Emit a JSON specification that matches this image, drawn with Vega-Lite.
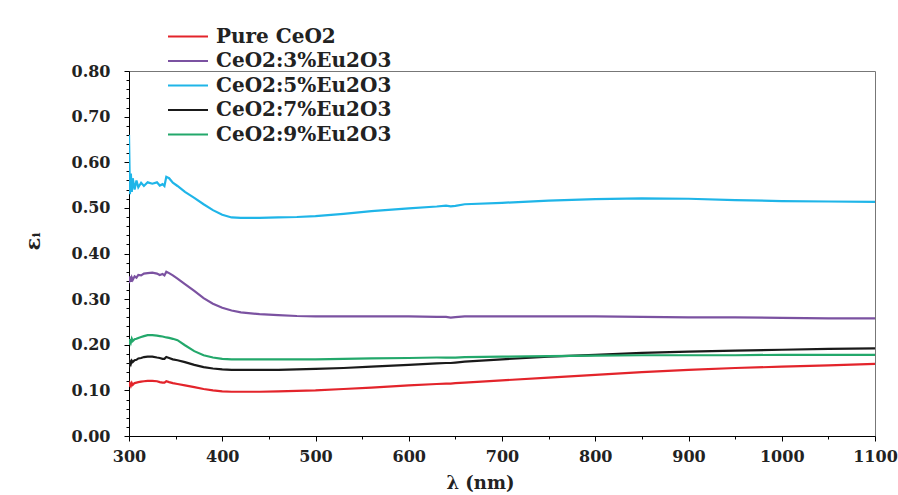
{
"$schema": "https://vega.github.io/schema/vega-lite/v6.json",
"width": 746, "height": 365,
"autosize": {"type": "none"},
"padding": {"left": 129, "top": 71, "right": 23, "bottom": 59},
"background": "white",
"config": {"view": {"stroke": "#777777", "strokeWidth": 1}, "font": "DejaVu Serif"},
"data": {"values": [
{"wl":300,"Pure CeO2":0.108,"CeO2:3%Eu2O3":0.335,"CeO2:5%Eu2O3":0.660,"CeO2:7%Eu2O3":0.150,"CeO2:9%Eu2O3":0.200},
{"wl":301,"Pure CeO2":0.115,"CeO2:3%Eu2O3":0.350,"CeO2:5%Eu2O3":0.530,"CeO2:7%Eu2O3":0.163,"CeO2:9%Eu2O3":0.212},
{"wl":302,"Pure CeO2":0.110,"CeO2:3%Eu2O3":0.338,"CeO2:5%Eu2O3":0.575,"CeO2:7%Eu2O3":0.158,"CeO2:9%Eu2O3":0.205},
{"wl":303,"Pure CeO2":0.116,"CeO2:3%Eu2O3":0.347,"CeO2:5%Eu2O3":0.535,"CeO2:7%Eu2O3":0.165,"CeO2:9%Eu2O3":0.213},
{"wl":304,"Pure CeO2":0.112,"CeO2:3%Eu2O3":0.342,"CeO2:5%Eu2O3":0.565,"CeO2:7%Eu2O3":0.162,"CeO2:9%Eu2O3":0.208},
{"wl":306,"Pure CeO2":0.116,"CeO2:3%Eu2O3":0.350,"CeO2:5%Eu2O3":0.540,"CeO2:7%Eu2O3":0.166,"CeO2:9%Eu2O3":0.212},
{"wl":308,"Pure CeO2":0.117,"CeO2:3%Eu2O3":0.347,"CeO2:5%Eu2O3":0.560,"CeO2:7%Eu2O3":0.167,"CeO2:9%Eu2O3":0.213},
{"wl":310,"Pure CeO2":0.118,"CeO2:3%Eu2O3":0.353,"CeO2:5%Eu2O3":0.545,"CeO2:7%Eu2O3":0.170,"CeO2:9%Eu2O3":0.215},
{"wl":313,"Pure CeO2":0.119,"CeO2:3%Eu2O3":0.352,"CeO2:5%Eu2O3":0.555,"CeO2:7%Eu2O3":0.171,"CeO2:9%Eu2O3":0.217},
{"wl":316,"Pure CeO2":0.120,"CeO2:3%Eu2O3":0.356,"CeO2:5%Eu2O3":0.548,"CeO2:7%Eu2O3":0.173,"CeO2:9%Eu2O3":0.219},
{"wl":320,"Pure CeO2":0.121,"CeO2:3%Eu2O3":0.357,"CeO2:5%Eu2O3":0.556,"CeO2:7%Eu2O3":0.174,"CeO2:9%Eu2O3":0.221},
{"wl":325,"Pure CeO2":0.121,"CeO2:3%Eu2O3":0.358,"CeO2:5%Eu2O3":0.553,"CeO2:7%Eu2O3":0.174,"CeO2:9%Eu2O3":0.221},
{"wl":330,"Pure CeO2":0.120,"CeO2:3%Eu2O3":0.356,"CeO2:5%Eu2O3":0.556,"CeO2:7%Eu2O3":0.172,"CeO2:9%Eu2O3":0.220},
{"wl":333,"Pure CeO2":0.118,"CeO2:3%Eu2O3":0.353,"CeO2:5%Eu2O3":0.549,"CeO2:7%Eu2O3":0.171,"CeO2:9%Eu2O3":0.219},
{"wl":336,"Pure CeO2":0.117,"CeO2:3%Eu2O3":0.355,"CeO2:5%Eu2O3":0.552,"CeO2:7%Eu2O3":0.169,"CeO2:9%Eu2O3":0.218},
{"wl":338,"Pure CeO2":0.117,"CeO2:3%Eu2O3":0.352,"CeO2:5%Eu2O3":0.548,"CeO2:7%Eu2O3":0.169,"CeO2:9%Eu2O3":0.217},
{"wl":340,"Pure CeO2":0.120,"CeO2:3%Eu2O3":0.360,"CeO2:5%Eu2O3":0.568,"CeO2:7%Eu2O3":0.173,"CeO2:9%Eu2O3":0.216},
{"wl":343,"Pure CeO2":0.118,"CeO2:3%Eu2O3":0.357,"CeO2:5%Eu2O3":0.565,"CeO2:7%Eu2O3":0.171,"CeO2:9%Eu2O3":0.215},
{"wl":347,"Pure CeO2":0.116,"CeO2:3%Eu2O3":0.352,"CeO2:5%Eu2O3":0.555,"CeO2:7%Eu2O3":0.168,"CeO2:9%Eu2O3":0.213},
{"wl":352,"Pure CeO2":0.114,"CeO2:3%Eu2O3":0.345,"CeO2:5%Eu2O3":0.548,"CeO2:7%Eu2O3":0.166,"CeO2:9%Eu2O3":0.210},
{"wl":360,"Pure CeO2":0.111,"CeO2:3%Eu2O3":0.333,"CeO2:5%Eu2O3":0.535,"CeO2:7%Eu2O3":0.162,"CeO2:9%Eu2O3":0.199},
{"wl":370,"Pure CeO2":0.107,"CeO2:3%Eu2O3":0.318,"CeO2:5%Eu2O3":0.522,"CeO2:7%Eu2O3":0.156,"CeO2:9%Eu2O3":0.186},
{"wl":380,"Pure CeO2":0.103,"CeO2:3%Eu2O3":0.302,"CeO2:5%Eu2O3":0.508,"CeO2:7%Eu2O3":0.151,"CeO2:9%Eu2O3":0.177},
{"wl":390,"Pure CeO2":0.100,"CeO2:3%Eu2O3":0.290,"CeO2:5%Eu2O3":0.495,"CeO2:7%Eu2O3":0.148,"CeO2:9%Eu2O3":0.172},
{"wl":400,"Pure CeO2":0.098,"CeO2:3%Eu2O3":0.281,"CeO2:5%Eu2O3":0.485,"CeO2:7%Eu2O3":0.146,"CeO2:9%Eu2O3":0.169},
{"wl":410,"Pure CeO2":0.097,"CeO2:3%Eu2O3":0.275,"CeO2:5%Eu2O3":0.479,"CeO2:7%Eu2O3":0.145,"CeO2:9%Eu2O3":0.168},
{"wl":420,"Pure CeO2":0.097,"CeO2:3%Eu2O3":0.271,"CeO2:5%Eu2O3":0.478,"CeO2:7%Eu2O3":0.145,"CeO2:9%Eu2O3":0.168},
{"wl":440,"Pure CeO2":0.097,"CeO2:3%Eu2O3":0.267,"CeO2:5%Eu2O3":0.478,"CeO2:7%Eu2O3":0.145,"CeO2:9%Eu2O3":0.168},
{"wl":460,"Pure CeO2":0.098,"CeO2:3%Eu2O3":0.265,"CeO2:5%Eu2O3":0.479,"CeO2:7%Eu2O3":0.145,"CeO2:9%Eu2O3":0.168},
{"wl":480,"Pure CeO2":0.099,"CeO2:3%Eu2O3":0.263,"CeO2:5%Eu2O3":0.480,"CeO2:7%Eu2O3":0.146,"CeO2:9%Eu2O3":0.168},
{"wl":500,"Pure CeO2":0.100,"CeO2:3%Eu2O3":0.262,"CeO2:5%Eu2O3":0.482,"CeO2:7%Eu2O3":0.147,"CeO2:9%Eu2O3":0.168},
{"wl":530,"Pure CeO2":0.103,"CeO2:3%Eu2O3":0.262,"CeO2:5%Eu2O3":0.487,"CeO2:7%Eu2O3":0.149,"CeO2:9%Eu2O3":0.169},
{"wl":560,"Pure CeO2":0.106,"CeO2:3%Eu2O3":0.262,"CeO2:5%Eu2O3":0.493,"CeO2:7%Eu2O3":0.152,"CeO2:9%Eu2O3":0.170},
{"wl":600,"Pure CeO2":0.111,"CeO2:3%Eu2O3":0.262,"CeO2:5%Eu2O3":0.499,"CeO2:7%Eu2O3":0.156,"CeO2:9%Eu2O3":0.171},
{"wl":630,"Pure CeO2":0.114,"CeO2:3%Eu2O3":0.261,"CeO2:5%Eu2O3":0.503,"CeO2:7%Eu2O3":0.159,"CeO2:9%Eu2O3":0.172},
{"wl":640,"Pure CeO2":0.115,"CeO2:3%Eu2O3":0.261,"CeO2:5%Eu2O3":0.505,"CeO2:7%Eu2O3":0.160,"CeO2:9%Eu2O3":0.172},
{"wl":645,"Pure CeO2":0.115,"CeO2:3%Eu2O3":0.2595,"CeO2:5%Eu2O3":0.5035,"CeO2:7%Eu2O3":0.160,"CeO2:9%Eu2O3":0.172},
{"wl":650,"Pure CeO2":0.116,"CeO2:3%Eu2O3":0.2605,"CeO2:5%Eu2O3":0.5045,"CeO2:7%Eu2O3":0.161,"CeO2:9%Eu2O3":0.172},
{"wl":660,"Pure CeO2":0.117,"CeO2:3%Eu2O3":0.262,"CeO2:5%Eu2O3":0.508,"CeO2:7%Eu2O3":0.163,"CeO2:9%Eu2O3":0.173},
{"wl":700,"Pure CeO2":0.122,"CeO2:3%Eu2O3":0.262,"CeO2:5%Eu2O3":0.511,"CeO2:7%Eu2O3":0.168,"CeO2:9%Eu2O3":0.174},
{"wl":750,"Pure CeO2":0.128,"CeO2:3%Eu2O3":0.262,"CeO2:5%Eu2O3":0.516,"CeO2:7%Eu2O3":0.174,"CeO2:9%Eu2O3":0.175},
{"wl":800,"Pure CeO2":0.134,"CeO2:3%Eu2O3":0.262,"CeO2:5%Eu2O3":0.519,"CeO2:7%Eu2O3":0.178,"CeO2:9%Eu2O3":0.176},
{"wl":850,"Pure CeO2":0.140,"CeO2:3%Eu2O3":0.261,"CeO2:5%Eu2O3":0.521,"CeO2:7%Eu2O3":0.182,"CeO2:9%Eu2O3":0.177},
{"wl":900,"Pure CeO2":0.145,"CeO2:3%Eu2O3":0.260,"CeO2:5%Eu2O3":0.520,"CeO2:7%Eu2O3":0.185,"CeO2:9%Eu2O3":0.177},
{"wl":950,"Pure CeO2":0.149,"CeO2:3%Eu2O3":0.260,"CeO2:5%Eu2O3":0.517,"CeO2:7%Eu2O3":0.187,"CeO2:9%Eu2O3":0.177},
{"wl":1000,"Pure CeO2":0.152,"CeO2:3%Eu2O3":0.259,"CeO2:5%Eu2O3":0.515,"CeO2:7%Eu2O3":0.189,"CeO2:9%Eu2O3":0.178},
{"wl":1050,"Pure CeO2":0.155,"CeO2:3%Eu2O3":0.258,"CeO2:5%Eu2O3":0.514,"CeO2:7%Eu2O3":0.191,"CeO2:9%Eu2O3":0.178},
{"wl":1100,"Pure CeO2":0.158,"CeO2:3%Eu2O3":0.258,"CeO2:5%Eu2O3":0.513,"CeO2:7%Eu2O3":0.192,"CeO2:9%Eu2O3":0.178}
]},
"transform": [{"fold": ["Pure CeO2","CeO2:3%Eu2O3","CeO2:5%Eu2O3","CeO2:7%Eu2O3","CeO2:9%Eu2O3"], "as": ["series","eps"]}],
"mark": {"type": "line", "strokeWidth": 2.2, "clip": true},
"encoding": {
  "x": {"field": "wl", "type": "quantitative",
    "scale": {"domain": [300, 1100], "nice": false, "zero": false},
    "axis": {"values": [300,350,400,450,500,550,600,650,700,750,800,850,900,950,1000,1050,1100],
      "format": "d",
      "labelExpr": "datum.value % 100 == 0 ? datum.label : ''",
      "tickSize": {"condition": {"test": "datum.value % 100 == 0", "value": 5}, "value": 3},
      "grid": false, "domainColor": "black", "tickColor": "black",
      "labelFont": "DejaVu Serif", "labelFontWeight": "bold", "labelFontSize": 16, "labelColor": "#222222",
      "labelPadding": 7, "labelFlush": false, "labelOverlap": false,
      "title": "λ (nm)", "titleFont": "DejaVu Serif", "titleFontWeight": "bold", "titleFontSize": 18, "titleColor": "#222222",
      "titleX": 351, "titleY": 47, "titleBaseline": "middle", "titleAlign": "center"}},
  "y": {"field": "eps", "type": "quantitative",
    "scale": {"domain": [0, 0.8], "nice": false},
    "axis": {"values": [0,0.02,0.04,0.06,0.08,0.1,0.12,0.14,0.16,0.18,0.2,0.22,0.24,0.26,0.28,0.3,0.32,0.34,0.36,0.38,0.4,0.42,0.44,0.46,0.48,0.5,0.52,0.54,0.56,0.58,0.6,0.62,0.64,0.66,0.68,0.7,0.72,0.74,0.76,0.78,0.8],
      "labelExpr": "round(datum.value*100) % 10 == 0 ? format(datum.value, '.2f') : ''",
      "tickSize": {"condition": {"test": "round(datum.value*100) % 10 == 0", "value": 5}, "value": 3},
      "grid": false, "domainColor": "black", "tickColor": "black",
      "labelFont": "DejaVu Serif", "labelFontWeight": "bold", "labelFontSize": 16, "labelColor": "#222222",
      "labelPadding": 14, "labelFlush": false, "labelOverlap": false,
      "title": "εᵢ", "titleFont": "DejaVu Serif", "titleFontWeight": "bold", "titleFontSize": 21, "titleColor": "#222222",
      "titleX": -96, "titleY": 170, "titleAngle": 270, "titleBaseline": "middle", "titleAlign": "center"}},
  "color": {"field": "series", "type": "nominal",
    "scale": {"domain": ["Pure CeO2","CeO2:3%Eu2O3","CeO2:5%Eu2O3","CeO2:7%Eu2O3","CeO2:9%Eu2O3"],
              "range": ["#e3242b","#7b52a1","#1fb5e8","#1a1a1a","#23a86b"]},
    "legend": {"title": null, "orient": "none", "legendX": 49, "legendY": -44.5,
      "symbolType": "M-5,0H5", "symbolSize": 64, "symbolStrokeWidth": 2,
      "labelFont": "DejaVu Serif", "labelFontWeight": "bold", "labelFontSize": 20, "labelColor": "#222222",
      "labelOffset": 18, "rowPadding": 4.5, "padding": 0, "labelLimit": 0}}
}
}
